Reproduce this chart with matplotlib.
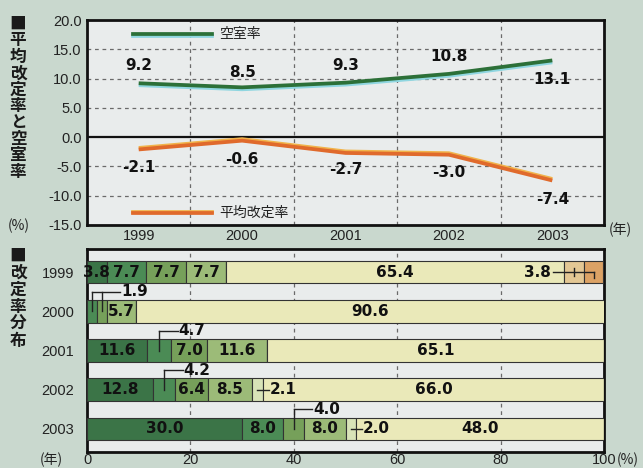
import matplotlib
matplotlib.use("Agg")
import matplotlib.pyplot as plt
import matplotlib.patheffects as pe
import numpy as np

plt.rcParams["font.family"] = ["Liberation Sans", "Noto Sans CJK JP", "DejaVu Sans"]
plt.rcParams["axes.unicode_minus"] = False

# ---- data -------------------------------------------------------------
years = ["1999", "2000", "2001", "2002", "2003"]
vacancy_rate = [9.2, 8.5, 9.3, 10.8, 13.1]          # 空室率
avg_revision = [-2.1, -0.6, -2.7, -3.0, -7.4]        # 平均改定率

y_ticks = [20.0, 15.0, 10.0, 5.0, 0.0, -5.0, -10.0, -15.0]
x_ticks_dist = [0, 20, 40, 60, 80, 100]

# revision-rate distribution (%), one list per class, darkest class first
dist_c1 = [3.8, 0.0, 11.6, 12.8, 30.0]
dist_c2 = [7.7, 1.9, 4.7, 4.2, 8.0]
dist_c3 = [7.7, 1.9, 7.0, 6.4, 4.0]
dist_c4 = [7.7, 5.7, 11.6, 8.5, 8.0]
dist_c5 = [0.0, 0.0, 0.0, 2.1, 2.0]
dist_c6 = [65.4, 90.6, 65.1, 66.0, 48.0]
dist_c7 = [3.8, 0.0, 0.0, 0.0, 0.0]
dist_c8 = [3.8, 0.0, 0.0, 0.0, 0.0]

# ---- style ------------------------------------------------------------
fig_bg = "#c9d8ce"
ax_bg = "#e9ecec"
green = "#2c7038"
orange = "#e06a2c"
class_colors = ["#3b7447", "#4b8b55", "#76a05a", "#9cbb78",
                "#d8e3b8", "#eae9b9", "#e3c794", "#dca265"]
value_font = ["DejaVu Sans"]

W, H = 643, 468
fig = plt.figure(figsize=(W / 100, H / 100), dpi=100, facecolor=fig_bg)

# ---- upper chart: lines ----------------------------------------------
ax1 = fig.add_axes([87 / W, 1 - 225 / H, 517 / W, 205 / H])
ax1.set_facecolor(ax_bg)
x = np.arange(len(years))
ax1.set_xlim(-0.5, 4.5)
ax1.set_ylim(-15, 20)

for v in [15, 10, 5, -5, -10]:
    ax1.axhline(v, color="#6a6a6a", lw=0.9, ls=(0, (3, 3)), zorder=1)
for xv in [0.5, 1.5, 2.5, 3.5]:
    ax1.axvline(xv, color="#6a6a6a", lw=0.9, ls=(0, (3, 3)), zorder=1)
ax1.axhline(0, color="#111111", lw=1.6, zorder=2)

green_fx = [pe.SimpleLineShadow(offset=(0, -1.4), shadow_color="#8fd6e0", alpha=1.0), pe.Normal()]
orange_fx = [pe.SimpleLineShadow(offset=(0, 1.1), shadow_color="#f1b34a", alpha=1.0), pe.Normal()]

ax1.plot(x, vacancy_rate, color=green, lw=2.7, zorder=4, solid_capstyle="butt",
         path_effects=green_fx)
ax1.plot(x, avg_revision, color=orange, lw=2.7, zorder=4, solid_capstyle="butt",
         path_effects=orange_fx)

# value labels
vac_off = [3.0, 2.5, 3.0, 3.0, -3.2]
rev_off = [-3.0, -3.3, -2.8, -3.0, -3.2]
lab_font = dict(fontsize=11, fontweight="bold", family=value_font, color="#111111",
                ha="center", va="center", zorder=6)
for i, v in enumerate(vacancy_rate):
    ax1.text(x[i], v + vac_off[i], f"{v:.1f}", **lab_font)
for i, v in enumerate(avg_revision):
    ax1.text(x[i], v + rev_off[i], f"{v:.1f}", **lab_font)

# legend entries
ax1.plot([0.089, 0.242], [0.932, 0.932], transform=ax1.transAxes, color=green, lw=2.7,
         path_effects=green_fx, zorder=5)
ax1.text(0.255, 0.932, "空室率", transform=ax1.transAxes, fontsize=10, va="center",
         family=["Noto Sans CJK JP"], color="#222222")
ax1.plot([0.089, 0.242], [0.058, 0.058], transform=ax1.transAxes, color=orange, lw=2.7,
         path_effects=orange_fx, zorder=5)
ax1.text(0.255, 0.058, "平均改定率", transform=ax1.transAxes, fontsize=10, va="center",
         family=["Noto Sans CJK JP"], color="#222222")

ax1.set_yticks(y_ticks)
ax1.set_yticklabels([f"{t:.1f}" for t in y_ticks], fontsize=10.5, color="#222222")
ax1.set_xticks(x)
ax1.set_xticklabels(years, fontsize=10.5, color="#222222")
ax1.tick_params(length=0, pad=4)
ax1.tick_params(axis="x", pad=3)
for s in ax1.spines.values():
    s.set_linewidth(2.0)
    s.set_color("#111111")

# ---- lower chart: stacked distribution bars ----------------------------
ax2 = fig.add_axes([87 / W, 1 - 452 / H, 517 / W, 203 / H])
ax2.set_facecolor(ax_bg)
ax2.set_xlim(0, 100)
ax2.set_ylim(4.59, -0.59)
for xv in [20, 40, 60, 80]:
    ax2.axvline(xv, color="#6a6a6a", lw=0.9, ls=(0, (3, 3)), zorder=1)

classes = [dist_c1, dist_c2, dist_c3, dist_c4, dist_c5, dist_c6, dist_c7, dist_c8]
rows = np.arange(len(years))
bar_h = 0.58
left = np.zeros(len(years))
for ci, vals in enumerate(classes):
    vals = np.array(vals)
    ax2.barh(rows, vals, left=left, height=bar_h, color=class_colors[ci],
             edgecolor="#333333", linewidth=0.8, zorder=3)
    left += vals

# segment geometry for labels
starts = np.cumsum([[0] * len(years)] + [list(c) for c in classes], axis=0)[:-1]
centers = starts + np.array(classes) / 2.0

lab2 = dict(fontsize=11, fontweight="bold", family=value_font, color="#111111",
            va="center", zorder=6)
lead = dict(color="#222222", lw=1.0, zorder=6)

# inside labels: (row, class)
inside = [(0, 0), (0, 1), (0, 2), (0, 3), (0, 5),
          (1, 3), (1, 5),
          (2, 0), (2, 2), (2, 3), (2, 5),
          (3, 0), (3, 2), (3, 3), (3, 5),
          (4, 0), (4, 1), (4, 3), (4, 5)]
for r, c in inside:
    ax2.text(centers[c][r], r, f"{classes[c][r]:.1f}", ha="center", **lab2)

# labels lifted above the bar with a leader: (row, classes sharing one label)
above = [(1, [1, 2]), (2, [1]), (3, [1]), (4, [2])]
for r, cs in above:
    xs = [centers[c][r] for c in cs]
    yl = r - 0.5
    for xc in xs:
        ax2.plot([xc, xc], [r, yl], **lead)
    ax2.plot([xs[0], xs[-1] + 3.6], [yl, yl], **lead)
    ax2.text(xs[-1] + 3.8, yl, f"{classes[cs[0]][r]:.1f}", ha="left", **lab2)

# labels to the right with a short horizontal leader
right = [(3, 4), (4, 4)]
for r, c in right:
    xc = centers[c][r]
    ax2.plot([xc, xc + 2.2], [r, r], **lead)
    ax2.text(xc + 2.4, r, f"{classes[c][r]:.1f}", ha="left", **lab2)

# increase classes of 1999 share one label on the left
xa, xb = centers[6][0], centers[7][0]
ax2.plot([starts[5][0] + 63.3, xb], [0, 0], **lead)
ax2.plot([xa, xa], [-0.1, 0.1], **lead)
ax2.plot([xb, xb], [0, 0.15], **lead)
ax2.text(starts[5][0] + 62.8, 0, f"{dist_c7[0]:.1f}", ha="right", **lab2)

ax2.set_xticks(x_ticks_dist)
ax2.set_xticklabels([str(t) for t in x_ticks_dist], fontsize=10.5, color="#222222")
ax2.set_yticks(rows)
ax2.set_yticklabels(years, fontsize=10.5, color="#222222")
ax2.tick_params(length=0)
ax2.tick_params(axis="x", pad=0.5)
ax2.tick_params(axis="y", pad=9)
for s in ax2.spines.values():
    s.set_linewidth(2.0)
    s.set_color("#111111")

# ---- vertical titles, one character per step ---------------------------
def vertical_title(text, x_px, y_top_px, step_px):
    for i, ch in enumerate(text):
        fig.text(x_px / W, 1 - (y_top_px + i * step_px) / H, ch,
                 fontsize=12, fontweight="bold",
                 family=["Noto Sans CJK JP", "DejaVu Sans"], color="#1a1a1a",
                 ha="center", va="center")

vertical_title("■平均改定率と空室率", 18, 24, 16.4)
vertical_title("■改定率分布", 18, 256, 17.0)

unit = dict(fontsize=10, family=["Noto Sans CJK JP", "DejaVu Sans"], color="#222222",
            va="center")
fig.text(8 / W, 1 - 226 / H, "(%)", ha="left", **unit)
fig.text(609 / W, 1 - 230 / H, "(年)", ha="left", **unit)
fig.text(40 / W, 1 - 460 / H, "(年)", ha="left", **unit)
fig.text(617 / W, 1 - 460 / H, "(%)", ha="left", **unit)

fig.savefig("out.png", dpi=100, facecolor=fig_bg)
